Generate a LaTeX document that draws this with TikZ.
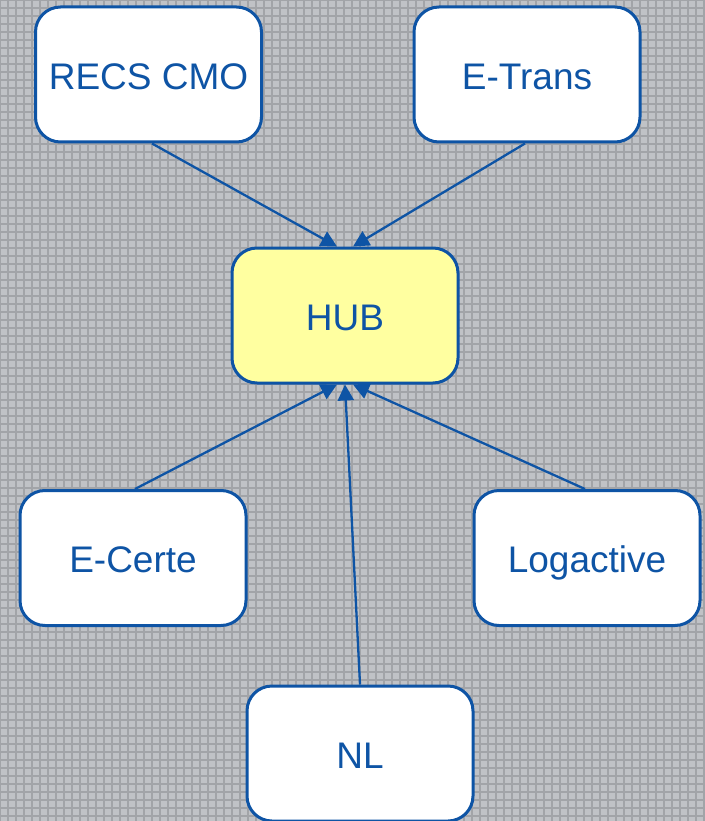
\documentclass[tikz,border=0pt]{standalone}
\usepackage{fontspec}
\setmainfont{Liberation Sans}
\usetikzlibrary{arrows.meta,calc}
\definecolor{boxblue}{RGB}{14,84,165}
\definecolor{hubyellow}{RGB}{255,255,160}
\definecolor{bggray}{RGB}{192,194,198}
\definecolor{gridgray}{RGB}{162,164,168}
\begin{document}
\begin{tikzpicture}[x=1pt,y=-1pt,
  box/.style={draw=boxblue,line width=3pt,fill=white,rounded corners=25pt,
    minimum width=226pt,minimum height=135pt,inner sep=0pt,
    text height=29.5pt,text depth=0pt,
    text=boxblue,font=\fontsize{37}{44}\selectfont},
  link/.style={draw=boxblue,line width=2.3pt,-{Triangle[length=16pt,width=16pt]}}]
\useasboundingbox (0,0) rectangle (704,821);
\fill[bggray] (0,0) rectangle (704,821);
\draw[gridgray,line width=1.2pt,step=8pt] (0,0) grid (704,821);
\node[box] (recs) at (148.5,74.5) {RECS CMO};
\node[box] (etrans) at (527,74.5) {E-Trans};
\node[box,fill=hubyellow] (hub) at (345,315.5) {HUB};
\node[box] (ecerte) at (133,558) {E-Certe};
\node[box] (logactive) at (587,558) {Logactive};
\node[box] (nl) at (360,753.5) {NL};
\draw[link] ($(recs.south)+(3.5,0)$) -- ($(hub.north)+(-8,0)$);
\draw[link] ($(etrans.south)+(-2,0)$) -- ($(hub.north)+(8,0)$);
\draw[link] ($(ecerte.north)+(2,0)$) -- ($(hub.south)+(-8,0)$);
\draw[link] (nl.north) -- (hub.south);
\draw[link] ($(logactive.north)+(-2,0)$) -- ($(hub.south)+(8,0)$);
\end{tikzpicture}
\end{document}
